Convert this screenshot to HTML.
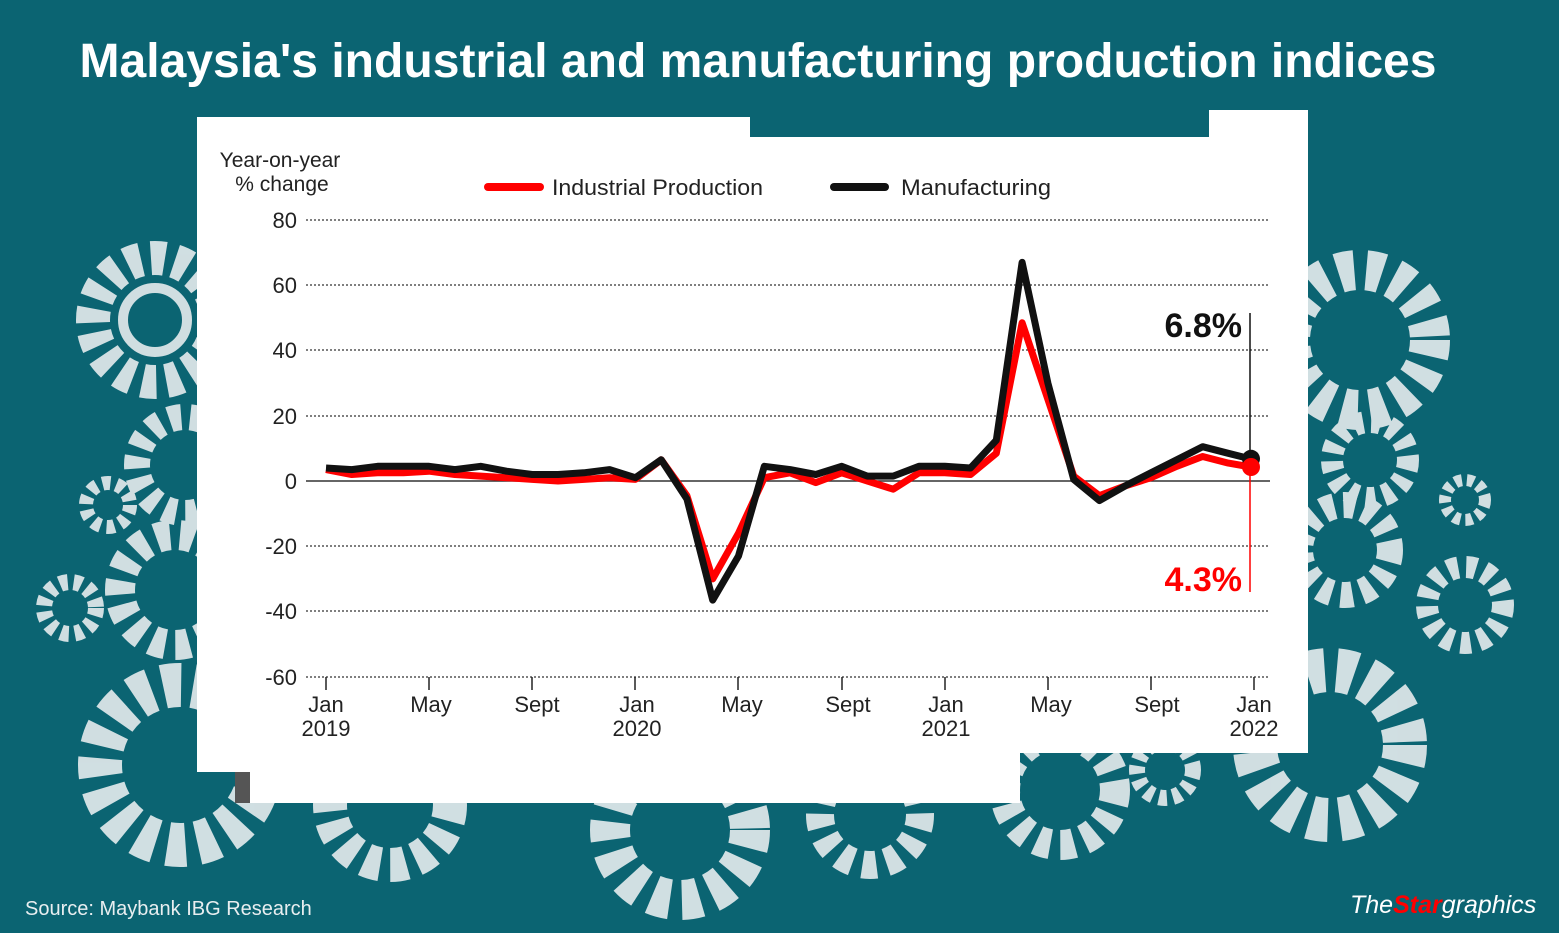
<!DOCTYPE html>
<html><head><meta charset="utf-8"><style>
html,body{margin:0;padding:0;background:#0b6472;}
svg{display:block;}
</style></head><body>
<svg width="1559" height="933" viewBox="0 0 1559 933" xmlns="http://www.w3.org/2000/svg" font-family="Liberation Sans, sans-serif">
<rect width="1559" height="933" fill="#0b6472"/>
<g fill="none" stroke="#e6ecee" opacity="0.9">
<circle cx="155" cy="320" r="62" stroke-width="34" stroke-dasharray="14 10"/>
<circle cx="155" cy="320" r="32" stroke-width="10"/>
<circle cx="185" cy="465" r="48" stroke-width="26" stroke-dasharray="12 9"/>
<circle cx="108" cy="505" r="22" stroke-width="14" stroke-dasharray="8 6"/>
<circle cx="175" cy="590" r="55" stroke-width="30" stroke-dasharray="14 10"/>
<circle cx="70" cy="608" r="26" stroke-width="16" stroke-dasharray="8 6"/>
<circle cx="180" cy="765" r="80" stroke-width="44" stroke-dasharray="18 12"/>
<circle cx="390" cy="805" r="60" stroke-width="34" stroke-dasharray="16 10"/>
<circle cx="680" cy="830" r="70" stroke-width="40" stroke-dasharray="18 12"/>
<circle cx="870" cy="815" r="50" stroke-width="28" stroke-dasharray="14 10"/>
<circle cx="1060" cy="790" r="55" stroke-width="30" stroke-dasharray="14 10"/>
<circle cx="1165" cy="770" r="28" stroke-width="16" stroke-dasharray="8 6"/>
<circle cx="1360" cy="340" r="70" stroke-width="40" stroke-dasharray="16 12"/>
<circle cx="1370" cy="460" r="38" stroke-width="22" stroke-dasharray="10 8"/>
<circle cx="1345" cy="550" r="45" stroke-width="26" stroke-dasharray="12 9"/>
<circle cx="1465" cy="500" r="20" stroke-width="12" stroke-dasharray="7 5"/>
<circle cx="1465" cy="605" r="38" stroke-width="22" stroke-dasharray="10 8"/>
<circle cx="1330" cy="745" r="75" stroke-width="44" stroke-dasharray="18 12"/>
</g>
<polygon points="235,725 250,725 250,803 235,803" fill="#555"/>
<polygon points="197,117 750,117 750,137 1209,137 1209,110 1308,110 1308,753 1020,753 1020,803 250,803 250,772 197,772" fill="#fff"/>
<text x="758" y="77" text-anchor="middle" font-size="48" font-weight="bold" fill="#fff" textLength="1357" lengthAdjust="spacingAndGlyphs">Malaysia's industrial and manufacturing production indices</text>
<text x="280" y="167" text-anchor="middle" font-size="21" fill="#222">Year-on-year</text>
<text x="282" y="191" text-anchor="middle" font-size="21" fill="#222">% change</text>
<line x1="488" y1="187" x2="540" y2="187" stroke="#f00" stroke-width="8" stroke-linecap="round"/>
<text x="552" y="195" font-size="22" fill="#222" textLength="211" lengthAdjust="spacingAndGlyphs">Industrial Production</text>
<line x1="834" y1="187" x2="885" y2="187" stroke="#111" stroke-width="8" stroke-linecap="round"/>
<text x="901" y="195" font-size="22" fill="#222" textLength="150" lengthAdjust="spacingAndGlyphs">Manufacturing</text>
<g stroke="#333" stroke-width="1.2" stroke-dasharray="2 2">
<line x1="306" y1="220" x2="1270" y2="220"/>
<line x1="306" y1="285" x2="1270" y2="285"/>
<line x1="306" y1="350" x2="1270" y2="350"/>
<line x1="306" y1="416" x2="1270" y2="416"/>
<line x1="306" y1="546" x2="1270" y2="546"/>
<line x1="306" y1="611" x2="1270" y2="611"/>
<line x1="306" y1="677" x2="1270" y2="677"/>
</g>
<line x1="306" y1="481" x2="1270" y2="481" stroke="#333" stroke-width="1.5"/>
<g font-size="22" fill="#222" text-anchor="end">
<text x="297" y="228">80</text><text x="297" y="293">60</text><text x="297" y="358">40</text>
<text x="297" y="424">20</text><text x="297" y="489">0</text><text x="297" y="554">-20</text>
<text x="297" y="619">-40</text><text x="297" y="685">-60</text>
</g>
<g stroke="#222" stroke-width="1.5">
<line x1="326" y1="677" x2="326" y2="690"/><line x1="429" y1="677" x2="429" y2="690"/>
<line x1="532" y1="677" x2="532" y2="690"/><line x1="635" y1="677" x2="635" y2="690"/>
<line x1="738" y1="677" x2="738" y2="690"/><line x1="842" y1="677" x2="842" y2="690"/>
<line x1="945" y1="677" x2="945" y2="690"/><line x1="1048" y1="677" x2="1048" y2="690"/>
<line x1="1151" y1="677" x2="1151" y2="690"/><line x1="1254" y1="677" x2="1254" y2="690"/>
</g>
<g font-size="22" fill="#222" text-anchor="middle">
<text x="326" y="712">Jan</text><text x="326" y="736">2019</text>
<text x="431" y="712">May</text><text x="537" y="712">Sept</text>
<text x="637" y="712">Jan</text><text x="637" y="736">2020</text>
<text x="742" y="712">May</text><text x="848" y="712">Sept</text>
<text x="946" y="712">Jan</text><text x="946" y="736">2021</text>
<text x="1051" y="712">May</text><text x="1157" y="712">Sept</text>
<text x="1254" y="712">Jan</text><text x="1254" y="736">2022</text>
</g>
<line x1="1250" y1="313" x2="1250" y2="459" stroke="#111" stroke-width="1.5"/>
<line x1="1250" y1="470" x2="1250" y2="592" stroke="#f00" stroke-width="1.5"/>
<text x="1242" y="337" text-anchor="end" font-size="34" font-weight="bold" fill="#111">6.8%</text>
<text x="1242" y="591" text-anchor="end" font-size="34" font-weight="bold" fill="#f00">4.3%</text>
<polyline fill="none" stroke="#f00" stroke-width="7" stroke-linejoin="round" points="326,469.6 351.8,474.5 377.6,472.8 403.3,472.8 429.1,471.2 454.9,474.5 480.7,476.1 506.5,477.7 532.2,479.4 558,481 583.8,479.4 609.6,477.7 635.4,479.4 661.2,459.8 686.9,495.7 712.7,578.9 738.5,533.2 764.3,477.7 790.1,472.8 815.8,482.6 841.6,472.8 867.4,481 893.2,489.2 919,472.8 944.8,472.8 970.5,474.5 996.3,453.3 1022.1,322.8 1047.9,399.4 1073.7,476.1 1099.4,495.7 1125.2,485.9 1151,477.7 1176.8,466.3 1202.6,456.5 1228.3,463.1 1251,467"/>
<polyline fill="none" stroke="#111" stroke-width="7" stroke-linejoin="round" points="326,468 351.8,469.6 377.6,466.3 403.3,466.3 429.1,466.3 454.9,469.6 480.7,466.3 506.5,471.2 532.2,474.5 558,474.5 583.8,472.8 609.6,469.6 635.4,477.7 661.2,459.8 686.9,498.9 712.7,600.1 738.5,556 764.3,466.3 790.1,469.6 815.8,474.5 841.6,466.3 867.4,476.1 893.2,476.1 919,466.3 944.8,466.3 970.5,468 996.3,440.2 1022.1,262.4 1047.9,383.1 1073.7,479.4 1099.4,500.6 1125.2,485.9 1151,472.8 1176.8,459.8 1202.6,446.7 1228.3,453.3 1251,459"/>
<circle cx="1251" cy="458.8" r="9" fill="#111"/>
<circle cx="1251" cy="467" r="9" fill="#f00"/>
<text x="25" y="915" font-size="20" fill="#e8eef0">Source: Maybank IBG Research</text>
<text x="1350" y="913" font-size="25" font-style="italic" fill="#fff">The<tspan fill="#f00" font-weight="bold">Star</tspan>graphics</text>
</svg>
</body></html>
